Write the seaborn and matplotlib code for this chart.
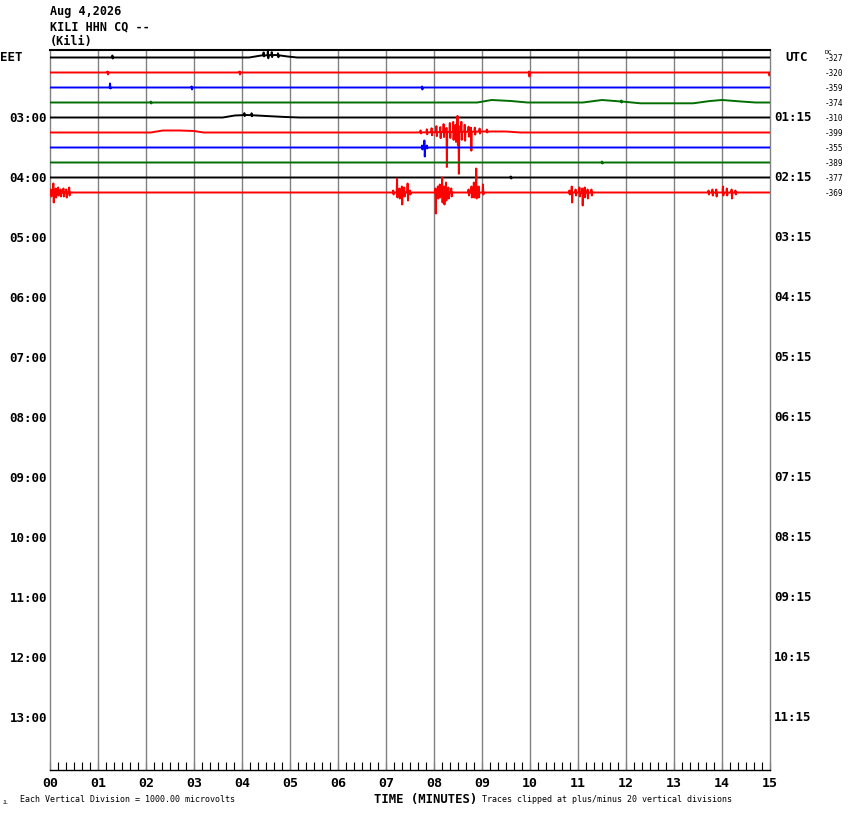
import numpy as np
import matplotlib
matplotlib.use("Agg")
import matplotlib.pyplot as plt
import seaborn as sns

# helicorder: one row per 15 minutes, first row starts 02:00 EET
row_colors = ["#000000", "#ff0000", "#0000ff", "#006e00"]
local_hours = ["03:00", "04:00", "05:00", "06:00", "07:00", "08:00",
               "09:00", "10:00", "11:00", "12:00", "13:00"]
utc_hours = ["01:15", "02:15", "03:15", "04:15", "05:15", "06:15",
             "07:15", "08:15", "09:15", "10:15", "11:15"]
minute_labels = ["%02d" % m for m in range(16)]
dc_offsets = [-327, -320, -359, -374, -310, -399, -355, -389, -377, -369]

# slow drift of each trace: (minute, offset in pixels, up positive)
drift_0 = [(0, 0), (4.15, 0), (4.4, 2), (4.7, 2.5), (4.95, 1), (5.15, 0), (15, 0)]
drift_1 = [(0, 0), (15, 0)]
drift_2 = [(0, 0), (15, 0)]
drift_3 = [(0, 0), (8.9, 0), (9.2, 2.5), (9.6, 1.5), (9.95, 0), (11.1, 0),
           (11.5, 2.5), (11.9, 1), (12.3, -0.8), (13.4, -0.8), (13.75, 1.5),
           (14.0, 2.5), (14.4, 1), (14.7, 0), (15, 0)]
drift_4 = [(0, 0), (3.6, 0), (3.85, 2), (4.1, 2.5), (4.5, 1.5), (4.9, 0.5), (5.2, 0), (15, 0)]
drift_5 = [(0, 0), (2.1, 0), (2.35, 2), (2.7, 2), (3.0, 1.5), (3.2, 0), (7.6, 0),
           (9.0, 1), (9.5, 1), (9.8, 0), (15, 0)]
drift_6 = [(0, 0), (15, 0)]
drift_7 = [(0, 0), (15, 0)]
drift_8 = [(0, 0), (15, 0)]
drift_9 = [(0, 0), (15, 0)]

# spikes: (minute, up px, down px)
spikes_0 = [(1.3, 2, 1), (4.45, 3, 1), (4.54, 5, 3), (4.62, 3, 2), (4.75, 2, 2)]
spikes_1 = [(1.2, 1, 2), (3.95, 1, 2), (9.98, 1, 4), (14.98, 0, 3)]
spikes_2 = [(1.25, 4, 1), (2.95, 1, 2), (7.75, 1, 2)]
spikes_3 = [(2.1, 1, 1), (11.9, 1, 1)]
spikes_4 = [(4.05, 2, 1), (4.2, 2, 1)]
spikes_5 = [(7.72, 2, 1), (7.85, 3, 2), (7.95, 4, 3), (8.05, 6, 4),
            (8.13, 5, 6), (8.2, 8, 5), (8.26, 4, 35), (8.33, 9, 6),
            (8.4, 10, 8), (8.45, 7, 10), (8.49, 16, 13), (8.51, 6, 42),
            (8.57, 10, 8), (8.64, 7, 9), (8.72, 5, 5), (8.77, 4, 19),
            (8.85, 4, 3), (8.95, 3, 2), (9.1, 2, 1)]
spikes_6 = [(7.75, 2, 2), (7.8, 7, 9), (7.85, 2, 1)]
spikes_7 = [(11.5, 1, 1)]
spikes_8 = [(9.6, 1, 1)]
spikes_9 = [(0.02, 3, 4), (0.07, 9, 10), (0.12, 4, 5), (0.17, 5, 3), (0.22, 3, 4),
            (0.28, 4, 4), (0.34, 3, 5), (0.4, 5, 3),
            (7.15, 2, 2), (7.23, 14, 5), (7.28, 4, 6), (7.33, 6, 12), (7.38, 5, 4),
            (7.45, 9, 8), (7.5, 2, 2),
            (8.03, 4, 21), (8.08, 6, 6), (8.12, 8, 5), (8.17, 15, 10), (8.21, 6, 12),
            (8.25, 10, 8), (8.3, 5, 6), (8.36, 4, 4),
            (8.72, 3, 3), (8.78, 6, 5), (8.83, 10, 5), (8.88, 24, 6), (8.93, 6, 5),
            (9.02, 8, 2),
            (10.82, 2, 2), (10.87, 6, 10), (10.95, 3, 3), (11.03, 5, 4), (11.09, 4, 13),
            (11.14, 5, 5), (11.2, 3, 6), (11.28, 3, 3),
            (13.72, 2, 2), (13.8, 3, 3), (13.88, 3, 4), (14.02, 6, 3), (14.1, 4, 3),
            (14.2, 3, 6), (14.28, 2, 2)]

drifts = [drift_0, drift_1, drift_2, drift_3, drift_4,
          drift_5, drift_6, drift_7, drift_8, drift_9]
spikes = [spikes_0, spikes_1, spikes_2, spikes_3, spikes_4,
          spikes_5, spikes_6, spikes_7, spikes_8, spikes_9]

PX_PER_ROW = 15.0


def build_trace(drift, spk):
    kt = np.array([p[0] for p in drift], dtype=float)
    kv = np.array([p[1] for p in drift], dtype=float)
    pts = list(zip(kt, kv))
    for t, up, down in spk:
        base = np.interp(t, kt, kv)
        pts += [(t - 0.008, base), (t, base + up), (t + 0.008, base - down), (t + 0.016, base)]
    pts.sort(key=lambda p: p[0])
    t = np.clip([p[0] for p in pts], 0, 15)
    v = np.array([p[1] for p in pts])
    return t, v


sns.set_style("white")
plt.rcParams['font.family'] = ['DejaVu Sans Mono', 'DejaVu Sans']
plt.rcParams['text.color'] = 'black'
plt.rcParams['xtick.color'] = 'black'
plt.rcParams['ytick.color'] = 'black'
plt.rcParams['axes.labelcolor'] = 'black'

W, H = 850, 814
fig = plt.figure(figsize=(W / 100, H / 100), dpi=100)
ax = fig.add_axes([50 / W, (H - 770) / H, 720 / W, 720 / H])

for m in range(1, 15):
    ax.axvline(m, color="#808080", lw=1.0, zorder=1)

for i in range(len(drifts)):
    t, v = build_trace(drifts[i], spikes[i])
    y = i - v / PX_PER_ROW
    sns.lineplot(x=t, y=y, color=row_colors[i % 4], linewidth=1.4,
                 estimator=None, sort=False, ax=ax, zorder=3)

ax.set_xlim(0, 15)
ax.set_ylim(47.5, -0.5)

ax.set_xticks(range(16))
ax.set_xticklabels(minute_labels, fontsize=9.5, fontweight="bold", color="black")
ax.set_xticks(np.arange(0, 15.001, 1 / 6), minor=True)
ax.tick_params(axis="x", which="both", direction="in", length=6, width=0.8,
               color="black", labelcolor="black", bottom=True, top=False, pad=5)

ax.set_yticks(range(4, 48, 4))
ax.set_yticklabels(local_hours, fontsize=9, fontweight="bold", color="black")
ax.tick_params(axis="y", length=0, pad=2, left=True, labelcolor="black")
ax.set_xlabel("")
ax.set_ylabel("")

for side in ["left", "right"]:
    ax.spines[side].set_color("#808080")
    ax.spines[side].set_linewidth(1.0)
ax.spines["top"].set_color("black")
ax.spines["top"].set_linewidth(1.5)
ax.spines["bottom"].set_color("black")
ax.spines["bottom"].set_linewidth(1.0)

yt = ax.get_yaxis_transform()
ax.text((0 - 50) / 720, 0, "EET", transform=yt, ha="left", va="center",
        fontsize=9, fontweight="bold")
ax.text((785 - 50) / 720, 0, "UTC", transform=yt, ha="left", va="center",
        fontsize=9, fontweight="bold")
for k, lab in enumerate(utc_hours):
    ax.text((774 - 50) / 720, 4 + 4 * k, lab, transform=yt, ha="left", va="center",
            fontsize=9, fontweight="bold")
for i, dc in enumerate(dc_offsets):
    ax.text((825 - 50) / 720, i + 0.08, str(dc), transform=yt, ha="left", va="center",
            fontsize=5.5)
ax.text((825 - 50) / 720, -0.35, "DC", transform=yt, ha="left", va="center",
        fontsize=4.5)

fig.text(50 / W, 1 - 12 / H, "Aug 4,2026", ha="left", va="center",
         fontsize=8.5, fontweight="bold")
fig.text(50 / W, 1 - 27 / H, "KILI HHN CQ --", ha="left", va="center",
         fontsize=8.5, fontweight="bold")
fig.text(50 / W, 1 - 42 / H, "(Kili)", ha="left", va="center",
         fontsize=8.5, fontweight="bold")

fig.text(374 / W, 1 - 799 / H, "TIME (MINUTES)", ha="left", va="center",
         fontsize=8.8, fontweight="bold")
fig.text(20 / W, 1 - 800 / H, "Each Vertical Division = 1000.00 microvolts",
         ha="left", va="center", fontsize=6)
fig.text(482 / W, 1 - 800 / H, "Traces clipped at plus/minus 20 vertical divisions",
         ha="left", va="center", fontsize=6)
fig.text(3 / W, 1 - 802 / H, "JL", ha="left", va="center", fontsize=3.5)

fig.savefig("out.png", dpi=100)
